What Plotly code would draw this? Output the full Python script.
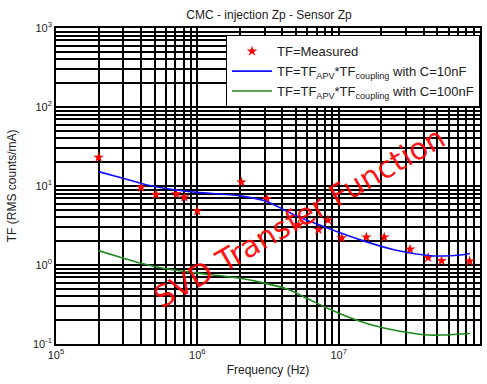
import plotly.graph_objects as go

# Measured transfer function points
meas_f = [2e5, 4e5, 5.1e5, 7.1e5, 8.1e5, 1e6, 2.05e6, 3.1e6, 5.2e6, 7.2e6, 8.4e6,
          1.05e7, 1.57e7, 2.1e7, 3.2e7, 4.3e7, 5.35e7, 8.45e7]
meas_tf = [23, 9.6, 7.8, 7.9, 7.2, 4.8, 11.2, 6.9, 3.2, 2.8, 3.7,
           2.2, 2.25, 2.25, 1.58, 1.24, 1.13, 1.12]

# Model C=10nF
c10_f = [2e5, 3.3e5, 4.5e5, 7.1e5, 1e6, 2e6, 3e6, 5e6, 8.5e6, 1.46e7, 2.5e7, 4.3e7, 5.5e7, 7e7, 8.5e7]
c10_tf = [15.2, 11.9, 10.2, 8.9, 8.3, 7.5, 6.5, 4.2, 2.9, 2.05, 1.55, 1.32, 1.30, 1.33, 1.40]

# Model C=100nF
c100_f = [2e5, 3e5, 4e5, 5.7e5, 1e6, 2e6, 3e6, 4.4e6, 6.3e6, 8.5e6, 1.17e7, 1.72e7, 2.6e7, 4.3e7, 5.5e7, 8.5e7]
c100_tf = [1.52, 1.22, 1.05, 0.91, 0.79, 0.68, 0.59, 0.49, 0.36, 0.28, 0.22, 0.174, 0.147, 0.13, 0.13, 0.136]

# Tick labels
x_tickvals = [1e5, 1e6, 1e7, 1e8]
x_ticktext = ["10<sup>5</sup>", "10<sup>6</sup>", "10<sup>7</sup>", "10<sup>8</sup>"]
y_tickvals = [0.1, 1, 10, 100, 1000]
y_ticktext = ["10<sup>-1</sup>", "10<sup>0</sup>", "10<sup>1</sup>", "10<sup>2</sup>", "10<sup>3</sup>"]

FONT = "Liberation Sans, Arial, sans-serif"
TXT = "#222"

L, R, T, B = 56, 5, 28, 40
W, H = 487, 384
pw, ph = W - L - R, H - T - B

fig = go.Figure()
fig.add_trace(go.Scatter(x=meas_f, y=meas_tf, mode="markers", name="TF=Measured",
                         marker=dict(symbol="star", size=8, color="red",
                                     line=dict(width=0))))
fig.add_trace(go.Scatter(x=c10_f, y=c10_tf, mode="lines",
                         name="TF=TF<sub>APV</sub>*TF<sub>coupling</sub> with C=10nF",
                         line=dict(color="#1010ff", width=1.6, shape="spline", smoothing=0.8)))
fig.add_trace(go.Scatter(x=c100_f, y=c100_tf, mode="lines",
                         name="TF=TF<sub>APV</sub>*TF<sub>coupling</sub> with C=100nF",
                         line=dict(color="#1f8a1f", width=1.6, shape="spline", smoothing=0.8)))

fig.add_annotation(text="SVD Transfer Function",
                   x=(300 - L) / pw, y=(H - B - 217) / ph, xref="paper", yref="paper",
                   showarrow=False, textangle=-30,
                   font=dict(family="DejaVu Sans", size=30, color="rgba(255,0,0,0.92)"))

fig.add_annotation(text="TF (RMS counts/mA)",
                   x=(12 - L) / pw, y=(H - B - 186) / ph, xref="paper", yref="paper",
                   showarrow=False, textangle=-90, xanchor="center", yanchor="middle",
                   font=dict(family=FONT, size=12, color=TXT))

axis_common = dict(type="log", showline=True, linecolor="black", linewidth=1.6, mirror=True,
                   showgrid=True, gridcolor="black", gridwidth=1.5,
                   ticks="inside", ticklen=3, tickcolor="black",
                   zeroline=False,
                   tickfont=dict(family=FONT, size=11, color=TXT),
                   minor=dict(dtick="D1", showgrid=True, gridcolor="black", gridwidth=1.5,
                              ticks="inside", ticklen=2, tickcolor="black"))

fig.update_layout(
    width=W, height=H,
    margin=dict(l=L, r=R, t=T, b=B),
    paper_bgcolor="white", plot_bgcolor="white",
    title=dict(text="CMC - injection Zp - Sensor Zp", x=269 / W, xanchor="center",
               y=1 - 15 / H, yanchor="middle",
               font=dict(family=FONT, size=12, color=TXT)),
    xaxis=dict(axis_common, range=[5, 8], tickvals=x_tickvals, ticktext=x_ticktext,
               title=dict(text="Frequency (Hz)", standoff=6,
                          font=dict(family=FONT, size=12, color=TXT))),
    yaxis=dict(axis_common, range=[-1, 3], tickvals=y_tickvals, ticktext=y_ticktext),
    legend=dict(x=1, xanchor="right", y=0.977, yanchor="top",
                bgcolor="white", bordercolor="black", borderwidth=1,
                font=dict(family=FONT, size=13, color=TXT),
                tracegroupgap=0, itemwidth=40),
    showlegend=True,
)

fig.write_html("out.html")
